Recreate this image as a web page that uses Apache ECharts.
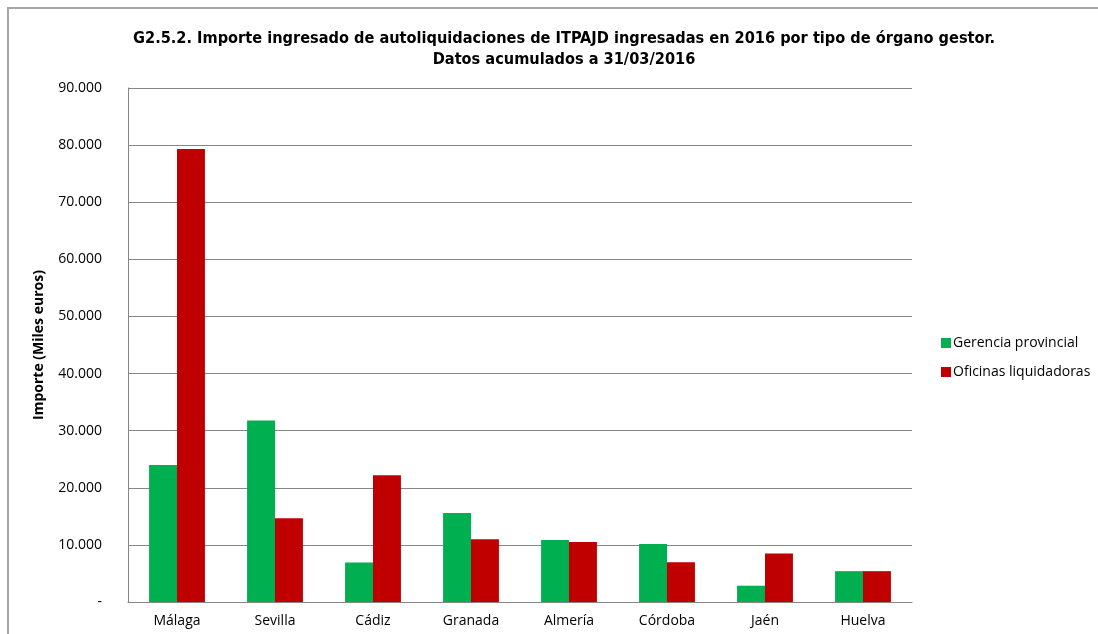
<!DOCTYPE html>
<html>
<head>
<meta charset="utf-8">
<script src="https://cdn.jsdelivr.net/npm/echarts@6/dist/echarts.min.js"></script>
<style>
  html, body { margin: 0; padding: 0; background: #fff; }
  #chart { width: 1098px; height: 634px; }
</style>
</head>
<body>
<div id="chart"></div>
<script>
// datos (miles de euros)
const provincias = ['Málaga', 'Sevilla', 'Cádiz', 'Granada', 'Almería', 'Córdoba', 'Jaén', 'Huelva']
const gerencia = [24000, 31800, 6900, 15600, 10850, 10150, 2850, 5400]
const oficinas = [79300, 14650, 22200, 11000, 10500, 6950, 8500, 5400]
const serieNames = ['Gerencia provincial', 'Oficinas liquidadoras']

const chart = echarts.init(document.getElementById('chart'))

const labelFont = "'Open Sans', 'Noto Sans', sans-serif"

const option = {
  animation: false,
  backgroundColor: '#fff',
  title: {
    text: 'G2.5.2. Importe ingresado de autoliquidaciones de ITPAJD ingresadas en 2016 por tipo de órgano gestor.\nDatos acumulados a 31/03/2016',
    left: 559,
    top: 23,
    textAlign: 'center',
    textStyle: {
      fontFamily: "'Liberation Sans Narrow', 'DejaVu Sans Condensed', sans-serif",
      fontWeight: 'bold',
      fontSize: 16.2,
      lineHeight: 21,
      color: '#000'
    }
  },
  legend: {
    orient: 'vertical',
    left: 936,
    top: 331,
    itemWidth: 10,
    itemHeight: 10,
    itemGap: 15,
    icon: 'rect',
    textStyle: { fontFamily: labelFont, fontSize: 14, color: '#000', padding: [0, 0, 0, -3] },
    data: serieNames
  },
  grid: { left: 128, right: 186, top: 88, bottom: 32 },
  xAxis: {
    type: 'category',
    data: provincias,
    axisLine: { lineStyle: { color: '#868686' } },
    axisTick: { show: false },
    axisLabel: { fontFamily: labelFont, fontSize: 14, color: '#000', margin: 12 }
  },
  yAxis: {
    type: 'value',
    min: 0,
    max: 90000,
    interval: 10000,
    name: 'Importe (Miles euros)',
    nameLocation: 'middle',
    nameGap: 82,
    nameTextStyle: { fontFamily: labelFont, fontWeight: 'bold', fontSize: 14, color: '#000' },
    axisLine: { show: true, lineStyle: { color: '#868686' } },
    axisTick: { show: false },
    splitLine: { lineStyle: { color: '#868686', width: 1 } },
    axisLabel: {
      fontFamily: labelFont,
      fontSize: 14,
      color: '#000',
      margin: 26,
      formatter: v => v === 0 ? '-' : v.toLocaleString('de-DE')
    }
  },
  series: [
    {
      name: serieNames[0],
      type: 'bar',
      data: gerencia,
      barGap: '0%',
      barCategoryGap: '43%',
      itemStyle: { color: '#00B050' }
    },
    {
      name: serieNames[1],
      type: 'bar',
      data: oficinas,
      itemStyle: { color: '#C00000' }
    }
  ],
  graphic: [
    {
      type: 'polyline',
      shape: { points: [[8, 640], [8, 8], [1100, 8]] },
      style: { stroke: '#a6a6a6', lineWidth: 2, fill: null }
    }
  ]
}

chart.setOption(option)
</script>
</body>
</html>
